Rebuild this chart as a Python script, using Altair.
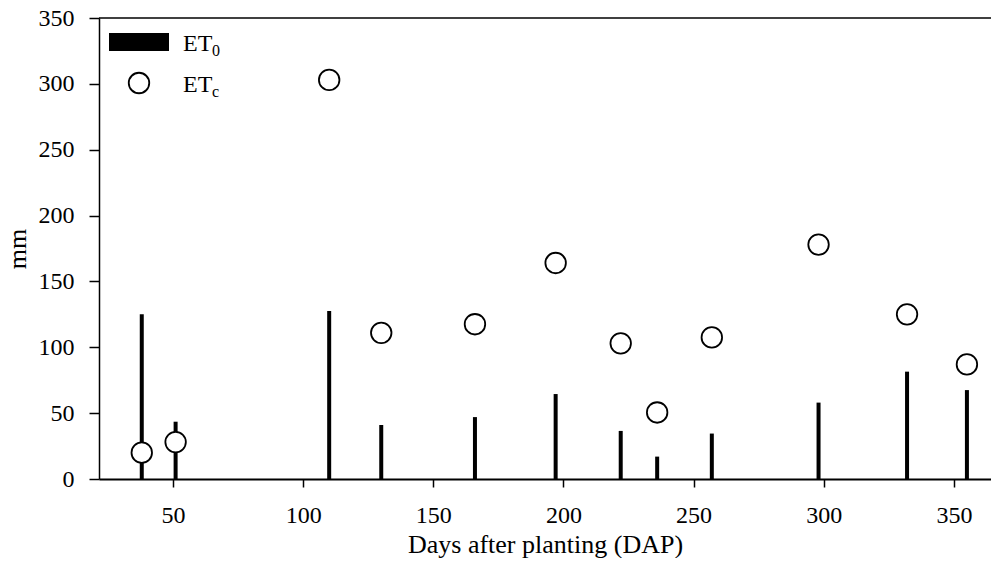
import altair as alt
import pandas as pd

# Data
dap = [38, 51, 110, 130, 166, 197, 222, 236, 257, 298, 332, 355]
et0 = [125, 43.5, 127.5, 41, 47, 64.5, 36.5, 17, 34.5, 58, 81.5, 67.5]
etc = [20, 28, 303, 111, 117.5, 164, 103, 50.5, 107.5, 178, 125, 87]
x_ticks = [50, 100, 150, 200, 250, 300, 350]
y_ticks = [0, 50, 100, 150, 200, 250, 300, 350]
legend_labels = ["ET", "ET"]
legend_subs = ["0", "c"]

df = pd.DataFrame({"dap": dap, "et0": et0, "etc": etc})

W, H = 892, 461
FONT = "Liberation Serif"

xs = alt.Scale(domain=[21.57, 21.57 + W / 2.603], nice=False, zero=False, padding=0)
ys = alt.Scale(domain=[0, 350], nice=False)

xaxis = alt.Axis(values=x_ticks, title="Days after planting (DAP)", tickSize=8,
                 labelPadding=16, domainWidth=2, tickWidth=1.5,
                 labelFont=FONT, labelFontSize=24, titleFont=FONT,
                 titleFontSize=26, titleBaseline="alphabetic", titleY=73)
yaxis = alt.Axis(values=y_ticks, title="mm", tickSize=10, labelPadding=15,
                 domainWidth=1.5, tickWidth=1.5, labelFont=FONT, labelFontSize=24,
                 titleFont=FONT, titleFontSize=26,
                 titleBaseline="alphabetic", titleX=-74, titleY=H / 2,
                 titleAngle=270, titleAlign="center")

base = alt.Chart(df)

bars = base.mark_bar(size=4, color="black").encode(
    x=alt.X("dap:Q", scale=xs, axis=xaxis),
    y=alt.Y("et0:Q", scale=ys, axis=yaxis),
)

points = base.mark_point(shape="circle", size=420, filled=True, fill="white",
                         stroke="black", strokeWidth=1.8, opacity=1).encode(
    x=alt.X("dap:Q", scale=xs),
    y=alt.Y("etc:Q", scale=ys),
)

one = alt.Data(values=[{"a": 1}])

top_frame = alt.Chart(one).mark_rule(color="black", strokeWidth=1.5).encode(
    x=alt.value(0), x2=alt.value(W), y=alt.value(0)
)

leg_rect = alt.Chart(one).mark_rect(color="black").encode(
    x=alt.value(10), x2=alt.value(70), y=alt.value(15), y2=alt.value(33)
)
leg_circle = alt.Chart(one).mark_point(shape="circle", size=420, filled=True,
                                       fill="white", stroke="black",
                                       strokeWidth=1.8, opacity=1).encode(
    x=alt.value(40), y=alt.value(65)
)
leg_t1 = alt.Chart(one).mark_text(align="left", baseline="alphabetic", font=FONT,
                                  fontSize=24, text=legend_labels[0]).encode(
    x=alt.value(84), y=alt.value(33))
leg_s1 = alt.Chart(one).mark_text(align="left", baseline="alphabetic", font=FONT,
                                  fontSize=16, text=legend_subs[0]).encode(
    x=alt.value(113), y=alt.value(38))
leg_t2 = alt.Chart(one).mark_text(align="left", baseline="alphabetic", font=FONT,
                                  fontSize=24, text=legend_labels[1]).encode(
    x=alt.value(84), y=alt.value(74))
leg_s2 = alt.Chart(one).mark_text(align="left", baseline="alphabetic", font=FONT,
                                  fontSize=16, text=legend_subs[1]).encode(
    x=alt.value(113), y=alt.value(79))

chart = alt.layer(bars, points, top_frame, leg_rect, leg_circle,
                  leg_t1, leg_s1, leg_t2, leg_s2).properties(
    width=W, height=H,
    autosize=alt.AutoSizeParams(type="none"),
    padding={"left": 91, "top": 10, "right": 0, "bottom": 79},
).configure_view(stroke=None).configure_axis(
    grid=False, domainColor="black", tickColor="black",
    labelFont=FONT, titleFont=FONT, labelFontSize=24,
    labelColor="black", titleColor="black", titleFontWeight="normal",
)

chart.save("out.html", embed_options={"renderer": "svg", "actions": False})
